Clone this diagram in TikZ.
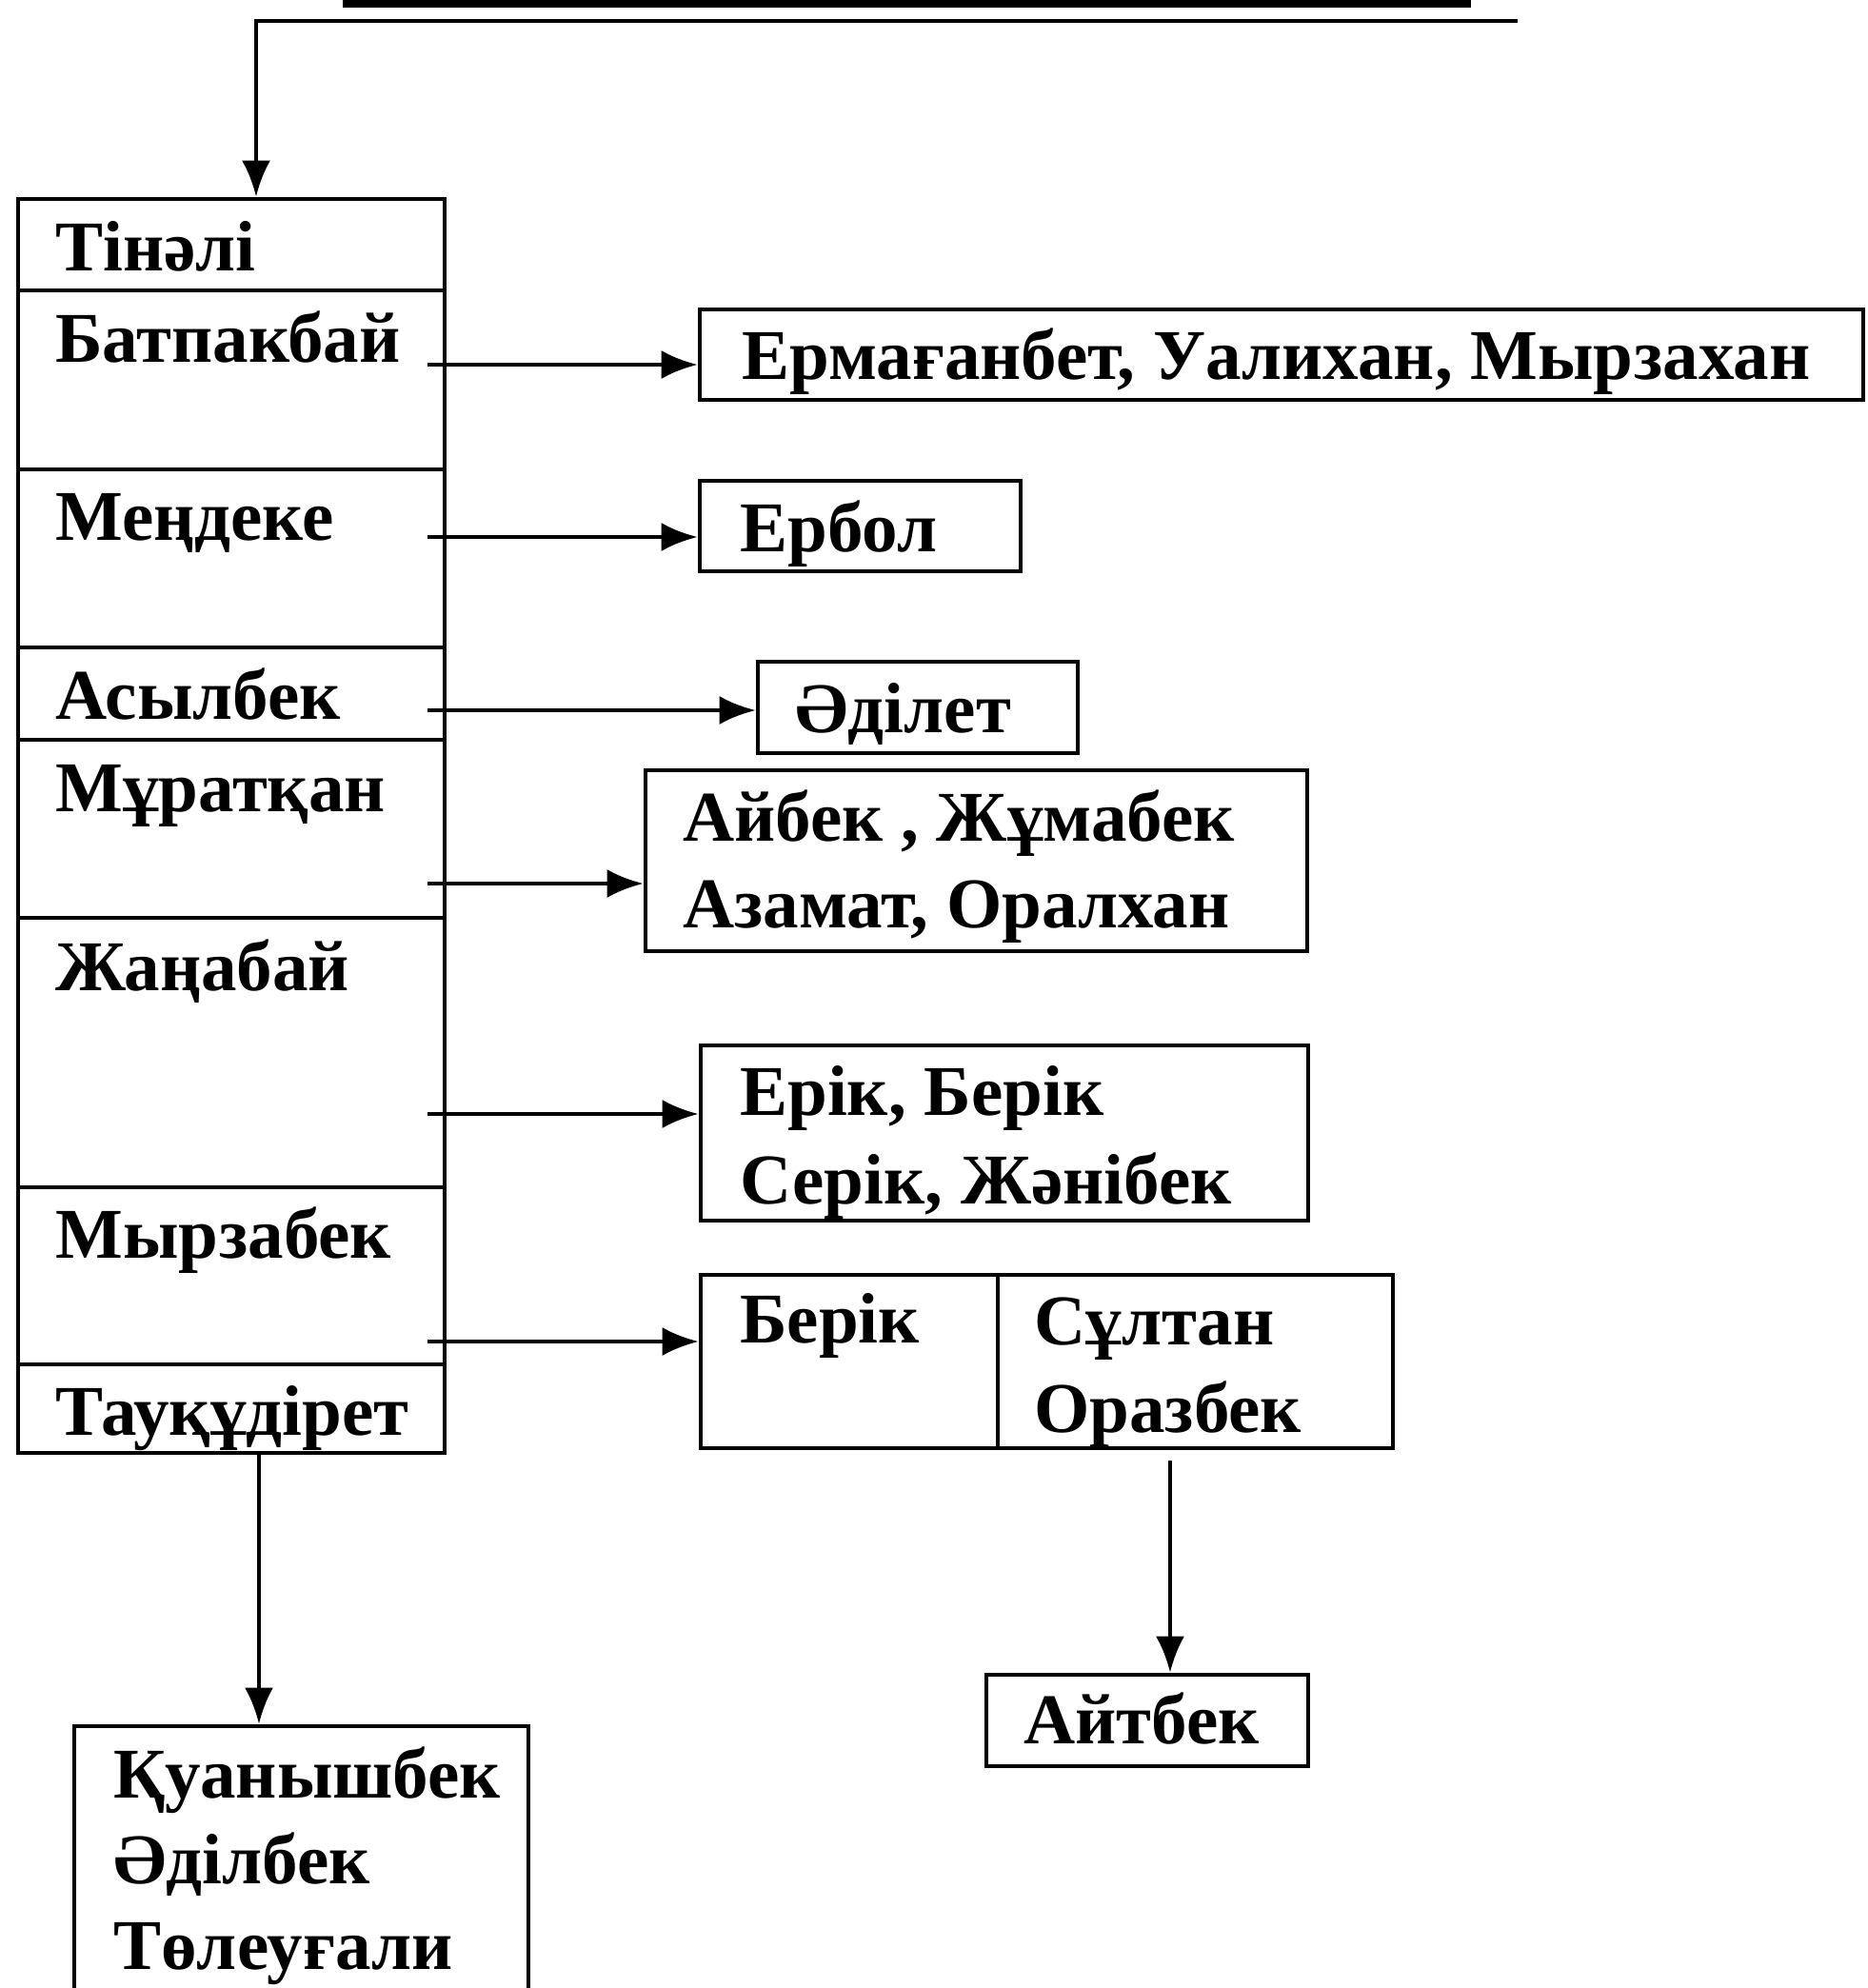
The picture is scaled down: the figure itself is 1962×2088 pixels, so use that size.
\documentclass[tikz,border=0pt]{standalone}
\usepackage{fontspec}
\setmainfont{Liberation Serif}
\usetikzlibrary{arrows.meta,fit}
\tikzset{
  cell/.style={draw, line width=2.3pt, inner sep=0pt, rectangle},
  lbl/.style={anchor=base west, inner sep=0pt, font=\bfseries\fontsize{37.5pt}{45pt}\selectfont},
  conn/.style={line width=2.2pt, -{Latex[length=19pt,width=15pt]}},
}
\begin{document}
\begin{tikzpicture}[x=0.5pt, y=-0.5pt]
\useasboundingbox (0,0) rectangle (1962,2088);
\clip (0,0) rectangle (1962,2088);
% thick bar at the top
\fill (360,0) rectangle (1545,8);
% column cells
\node[cell, fit={(19,209) (467,305)}] (tinali) {};
\node[cell, fit={(19,305) (467,493)}] (bat) {};
\node[cell, fit={(19,493) (467,680)}] (men) {};
\node[cell, fit={(19,680) (467,777)}] (asyl) {};
\node[cell, fit={(19,777) (467,964)}] (mur) {};
\node[cell, fit={(19,964) (467,1247)}] (zhan) {};
\node[cell, fit={(19,1247) (467,1433)}] (myrz) {};
\node[cell, fit={(19,1433) (467,1526)}] (tauk) {};
% column labels
\node[lbl] (ltinali) at (58,284) {Тінәлі};
\node[lbl] (lbat) at (58,380) {Батпакбай};
\node[lbl] (lmen) at (58,567) {Меңдеке};
\node[lbl] (lasyl) at (58,755) {Асылбек};
\node[lbl] (lmur) at (58,852) {Мұратқан};
\node[lbl] (lzhan) at (58,1040) {Жаңабай};
\node[lbl] (lmyrz) at (58,1321) {Мырзабек};
\node[lbl] (ltauk) at (58,1507) {Тауқұдірет};
% right boxes
\node[cell, fit={(735,325) (1957,420)}] (erm) {};
\node[cell, fit={(735,505) (1072,600)}] (erbol) {};
\node[cell, fit={(796,695) (1132,791)}] (adilet) {};
\node[cell, fit={(678,809) (1373,999)}] (aibek) {};
\node[cell, fit={(736,1098) (1374,1282)}] (erik) {};
\node[cell, fit={(736,1339) (1048,1521)}] (berik) {};
\node[cell, fit={(1048,1339) (1463,1521)}] (sultan) {};
\node[cell, fit={(1036,1759) (1374,1855)}] (aitbek) {};
\node[cell, fit={(78,1813) (555,2150)}] (kuan) {};
% right labels
\node[lbl] (lerm) at (779,398) {Ермағанбет, Уалихан, Мырзахан};
\node[lbl] (lerbol) at (777,579) {Ербол};
\node[lbl] (ladilet) at (835,769) {Әділет};
\node[lbl] (laibek1) at (717,883) {Айбек , Жұмабек};
\node[lbl] (laibek2) at (717,974) {Азамат, Оралхан};
\node[lbl] (lerik1) at (777,1171) {Ерік, Берік};
\node[lbl] (lerik2) at (777,1264) {Серік, Жәнібек};
\node[lbl] (lberik) at (777,1410) {Берік};
\node[lbl] (lsultan1) at (1086,1412) {Сұлтан};
\node[lbl] (lsultan2) at (1086,1504) {Оразбек};
\node[lbl] (laitbek) at (1075,1831) {Айтбек};
\node[lbl] (lkuan1) at (119,1888) {Қуанышбек};
\node[lbl] (lkuan2) at (119,1978) {Әділбек};
\node[lbl] (lkuan3) at (119,2068) {Төлеуғали};
% connector end points
\coordinate (topR) at (1594,22);
\coordinate (topL) at (269,22);
\coordinate (a1) at (449,383);
\coordinate (a2) at (449,564);
\coordinate (a3) at (449,746);
\coordinate (a4) at (449,928);
\coordinate (a5) at (449,1170);
\coordinate (a6) at (449,1409);
\coordinate (t1) at (272,1526);
\coordinate (s1) at (1229,1534);
% connectors
\draw[conn] (topR) -- (topL) -- (topL |- tinali.north);
\draw[conn] (a1) -- (a1 -| erm.west);
\draw[conn] (a2) -- (a2 -| erbol.west);
\draw[conn] (a3) -- (a3 -| adilet.west);
\draw[conn] (a4) -- (a4 -| aibek.west);
\draw[conn] (a5) -- (a5 -| erik.west);
\draw[conn] (a6) -- (a6 -| berik.west);
\draw[conn] (t1) -- (t1 |- kuan.north);
\draw[conn] (s1) -- (s1 |- aitbek.north);
\end{tikzpicture}
\end{document}
